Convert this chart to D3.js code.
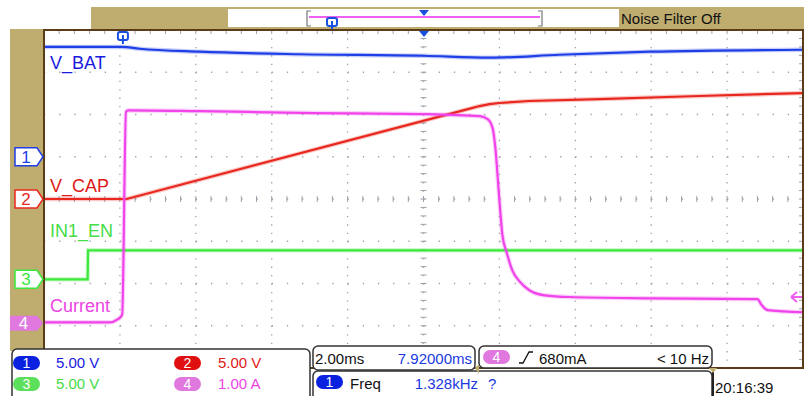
<!DOCTYPE html>
<html>
<head>
<meta charset="utf-8">
<script src="https://cdn.jsdelivr.net/npm/d3@7"></script>
<style>
body { margin: 0; background: #fff; }
svg { display: block; font-family: "Liberation Sans", Arial, sans-serif; }
</style>
</head>
<body>
<div id="scope"></div>
<script>
// time in ms, trigger at 0, 2.00 ms/div
const batTime  = [-2.08, -0.04, 0.44, 2.02, 4.65, 7.92, 9.66, 11.5, 13.88, 17.92];
const batVolts = [13.0, 13.0, 12.78, 12.43, 12.13, 11.95, 11.72, 12.07, 12.43, 12.66];

const capTime  = [-2.08, 0.1, 9.14, 9.4, 9.66, 9.92, 10.71, 12.56, 15.19, 17.92];
const capVolts = [0, 0, 10.7, 11.0, 11.22, 11.36, 11.6, 11.83, 12.19, 12.54];

const enTime  = [-2.08, -0.93, -0.92, 17.92];
const enVolts = [0, 0, 3.43, 3.43];

const curTime = [-2.08, -0.35, -0.14, -0.02, 0.08, 0.14, 2.02, 4.65, 7.92, 9.40, 9.61, 9.74, 9.82, 9.90,
                 10.00, 10.11, 10.26, 10.45, 10.71, 11.11, 11.77, 13.87, 16.72, 16.83, 16.99, 17.43, 17.92];
const curAmps = [0.02, 0.02, 0.09, 0.2, 5.0, 5.04, 5.02, 4.98, 4.95, 4.90, 4.83, 4.62, 4.09, 3.15,
                 2.08, 1.68, 1.25, 0.99, 0.78, 0.66, 0.62, 0.59, 0.57, 0.43, 0.31, 0.28, 0.26];

const channelNames = ["V_BAT", "V_CAP", "IN1_EN", "Current"];
const channelScale = ["5.00 V", "5.00 V", "5.00 V", "1.00 A"];
const perDiv = [5, 5, 5, 1];
const offsetDiv = [1, 0, -1.9, -2.94];   // ground marker position in divisions from centre

const width = 804, height = 396;
const plotL = 44, plotR = 803, plotT = 30, plotB = 368;
const divW = (plotR - plotL) / 10, divH = (plotB - plotT) / 8;
const centerY = plotT + 4 * divH;

const tan = "#bfad70", brown = "#5a3c18";
const traceColor = ["#1f3fe6", "#e8281e", "#3be83b", "#f044ea"];
const labelColor = ["#1a1ae0", "#e01818", "#46dc46", "#ec44e4"];
const pillColor = ["#0a22e0", "#e01010", "#5ce05c", "#e078e0"];

const svg = d3.select("#scope").append("svg")
    .attr("width", width)
    .attr("height", height);

const x = d3.scaleLinear().domain([-2.08, 17.92]).range([plotL, plotR]);
const yScales = perDiv.map((p, i) => d3.scaleLinear()
    .domain([0, p])
    .range([centerY - offsetDiv[i] * divH, centerY - (offsetDiv[i] + 1) * divH]));

// frame pieces
svg.append("rect").attr("x", 91).attr("y", 7).attr("width", width - 91).attr("height", 23).attr("fill", tan);
svg.append("rect").attr("x", 10).attr("y", 29).attr("width", 34).attr("height", 322).attr("fill", tan);
svg.append("rect").attr("x", plotL).attr("y", plotT).attr("width", plotR - plotL).attr("height", plotB - plotT).attr("fill", "#fff");

// top status bar
svg.append("rect").attr("x", 228).attr("y", 9).attr("width", 391).attr("height", 18).attr("fill", "#fff");
svg.append("path")
    .attr("d", "M311,11 H307 V26 H311 M538,11 H542 V26 H538")
    .attr("fill", "none").attr("stroke", "#777").attr("stroke-width", 1.2);
svg.append("line").attr("x1", 309).attr("x2", 540).attr("y1", 17).attr("y2", 17)
    .attr("stroke", "#f060f0").attr("stroke-width", 2);
svg.append("path").attr("d", "M419,10 H429 L424,16 Z").attr("fill", "#1a50e0");
svg.append("rect").attr("x", 327).attr("y", 18).attr("width", 10).attr("height", 8).attr("rx", 2)
    .attr("fill", "#fff").attr("stroke", "#1a50e0").attr("stroke-width", 2);
svg.append("line").attr("x1", 332).attr("x2", 332).attr("y1", 21).attr("y2", 29)
    .attr("stroke", "#1a50e0").attr("stroke-width", 2);
svg.append("text").attr("x", 621).attr("y", 24).attr("font-size", 15).attr("fill", "#111")
    .text("Noise Filter Off");

// grid
const grid = svg.append("g");
d3.range(1, 10).forEach(i => {
    const gx = plotL + i * divW;
    grid.append("line")
        .attr("x1", gx).attr("x2", gx).attr("y1", plotT).attr("y2", plotB)
        .attr("stroke", "#a0a0ac").attr("stroke-width", 1.3)
        .attr("stroke-dasharray", `1.3 ${divH / 5 - 1.3}`);
});
d3.range(1, 8).forEach(j => {
    const gy = plotT + j * divH;
    grid.append("line")
        .attr("x1", plotL).attr("x2", plotR).attr("y1", gy).attr("y2", gy)
        .attr("stroke", "#a0a0ac").attr("stroke-width", 1.3)
        .attr("stroke-dasharray", `1.3 ${divW / 5 - 1.3}`);
});
// centre ticks
d3.range(0, 41).forEach(k => {
    const ty = plotT + k * divH / 5;
    grid.append("line").attr("x1", plotL + 5 * divW - 3).attr("x2", plotL + 5 * divW + 3)
        .attr("y1", ty).attr("y2", ty).attr("stroke", "#a0a0ac").attr("stroke-width", 1);
    // right edge ticks
    grid.append("line").attr("x1", plotR - 4).attr("x2", plotR)
        .attr("y1", ty).attr("y2", ty).attr("stroke", "#a0a0ac").attr("stroke-width", 1);
});
d3.range(0, 51).forEach(k => {
    const tx = plotL + k * divW / 5;
    grid.append("line").attr("x1", tx).attr("x2", tx)
        .attr("y1", centerY - 3).attr("y2", centerY + 3).attr("stroke", "#a0a0ac").attr("stroke-width", 1);
    grid.append("line").attr("x1", tx).attr("x2", tx)
        .attr("y1", plotT).attr("y2", plotT + 4).attr("stroke", "#a0a0ac").attr("stroke-width", 1);
});

// traces
const series = [
    [batTime, batVolts],
    [capTime, capVolts],
    [enTime, enVolts],
    [curTime, curAmps]
];
const curves = [d3.curveMonotoneX, d3.curveLinear, d3.curveLinear, d3.curveMonotoneX];
const drawOrder = [0, 2, 1, 3];
drawOrder.forEach(i => {
    const [ts, vs] = series[i];
    const pts = ts.map((t, k) => [t, vs[k]]);
    const line = d3.line().curve(curves[i]).x(d => x(d[0])).y(d => yScales[i](d[1]));
    svg.append("path").datum(pts).attr("d", line)
        .attr("fill", "none").attr("stroke", traceColor[i])
        .attr("stroke-width", 4.5).attr("stroke-opacity", 0.25);
    svg.append("path").datum(pts).attr("d", line)
        .attr("fill", "none").attr("stroke", traceColor[i])
        .attr("stroke-width", 2.2);
});

// trace labels
const labelY = [69, 192, 237, 312];
channelNames.forEach((n, i) => {
    svg.append("text").attr("x", 50).attr("y", labelY[i])
        .attr("font-size", 18).attr("fill", labelColor[i]).text(n);
});

// trigger level arrow for ch4
svg.append("path").attr("d", "M791,297 L797,292 M791,297 L797,302 M791,297 H802")
    .attr("stroke", "#f060f0").attr("stroke-width", 2).attr("fill", "none");

// plot border
svg.append("rect").attr("x", plotL).attr("y", plotT).attr("width", plotR - plotL).attr("height", plotB - plotT)
    .attr("fill", "none").attr("stroke", brown).attr("stroke-width", 2);

// trigger markers on top edge
svg.append("path").attr("d", "M419,31 H429 L424,37 Z").attr("fill", "#1a50e0");
svg.append("rect").attr("x", x(0) - 5).attr("y", 32).attr("width", 10).attr("height", 8).attr("rx", 2)
    .attr("fill", "#fff").attr("stroke", "#1a50e0").attr("stroke-width", 2);
svg.append("line").attr("x1", x(0)).attr("x2", x(0)).attr("y1", 35).attr("y2", 44)
    .attr("stroke", "#1a50e0").attr("stroke-width", 2);

// channel ground markers
channelNames.forEach((n, i) => {
    const gy = yScales[i](0);
    const x0 = i === 3 ? 10 : 15, h = i === 3 ? 7.5 : 9, x1 = 43;
    svg.append("path")
        .attr("d", `M${x0},${gy - h} H${x1 - 6} L${x1},${gy} L${x1 - 6},${gy + h} H${x0} Z`)
        .attr("fill", i === 3 ? pillColor[3] : "#fff")
        .attr("stroke", i === 3 ? "none" : traceColor[i]).attr("stroke-width", 1.5);
    svg.append("text").attr("x", (x0 + x1 - 6) / 2).attr("y", gy + 6)
        .attr("text-anchor", "middle").attr("font-size", 17)
        .attr("fill", i === 3 ? "#fff" : traceColor[i]).text(i + 1);
});

// bottom status area
const status = svg.append("g").attr("font-size", 15);
function box(bx, by, bw, bh) {
    status.append("rect").attr("x", bx).attr("y", by).attr("width", bw).attr("height", bh).attr("rx", 5)
        .attr("fill", "#fff").attr("stroke", "#333").attr("stroke-width", 1.5);
}
function pill(px, py, i, label) {
    status.append("rect").attr("x", px).attr("y", py).attr("width", 27).attr("height", 14).attr("rx", 7)
        .attr("fill", pillColor[i]);
    status.append("text").attr("x", px + 13.5).attr("y", py + 12).attr("text-anchor", "middle")
        .attr("fill", "#fff").attr("font-size", 14).text(label);
}

box(12, 349, 298, 60);
const pillPos = [[13, 356], [174, 356], [13, 377], [174, 377]];
const textPos = [[56, 368], [218, 368], [56, 389], [218, 389]];
channelScale.forEach((s, i) => {
    pill(pillPos[i][0], pillPos[i][1], i, i + 1);
    status.append("text").attr("x", textPos[i][0]).attr("y", textPos[i][1])
        .attr("fill", labelColor[i]).text(s);
});

box(313, 346, 162, 24);
status.append("text").attr("x", 315).attr("y", 364).attr("fill", "#111").text("2.00ms");
status.append("text").attr("x", 472).attr("y", 364).attr("text-anchor", "end").attr("fill", "#1a3ae0").text("7.92000ms");

box(479, 346, 233, 22);
pill(483, 350, 3, 4);
status.append("path").attr("d", "M519,363 H523 L529,352 H533").attr("fill", "none")
    .attr("stroke", "#111").attr("stroke-width", 1.3);
status.append("text").attr("x", 539).attr("y", 364).attr("fill", "#111").text("680mA");
status.append("text").attr("x", 709).attr("y", 364).attr("text-anchor", "end").attr("fill", "#111").text("< 10 Hz");

box(313, 371, 399, 40);
pill(316, 375, 0, 1);
status.append("text").attr("x", 350).attr("y", 389).attr("fill", "#111").text("Freq");
status.append("text").attr("x", 478).attr("y", 389).attr("text-anchor", "end").attr("fill", "#1a3ae0").text("1.328kHz");
status.append("text").attr("x", 488).attr("y", 389).attr("fill", "#1a3ae0").text("?");

status.append("line").attr("x1", 713).attr("x2", 713).attr("y1", 369).attr("y2", 396)
    .attr("stroke", "#222").attr("stroke-width", 2);
status.append("path").attr("d", "M709,368 H717 L713,373 Z").attr("fill", tan);
status.append("path").attr("d", "M475,368 L479,364 V374 Z").attr("fill", tan);
status.append("text").attr("x", 715).attr("y", 393).attr("fill", "#111").text("20:16:39");
</script>
</body>
</html>
